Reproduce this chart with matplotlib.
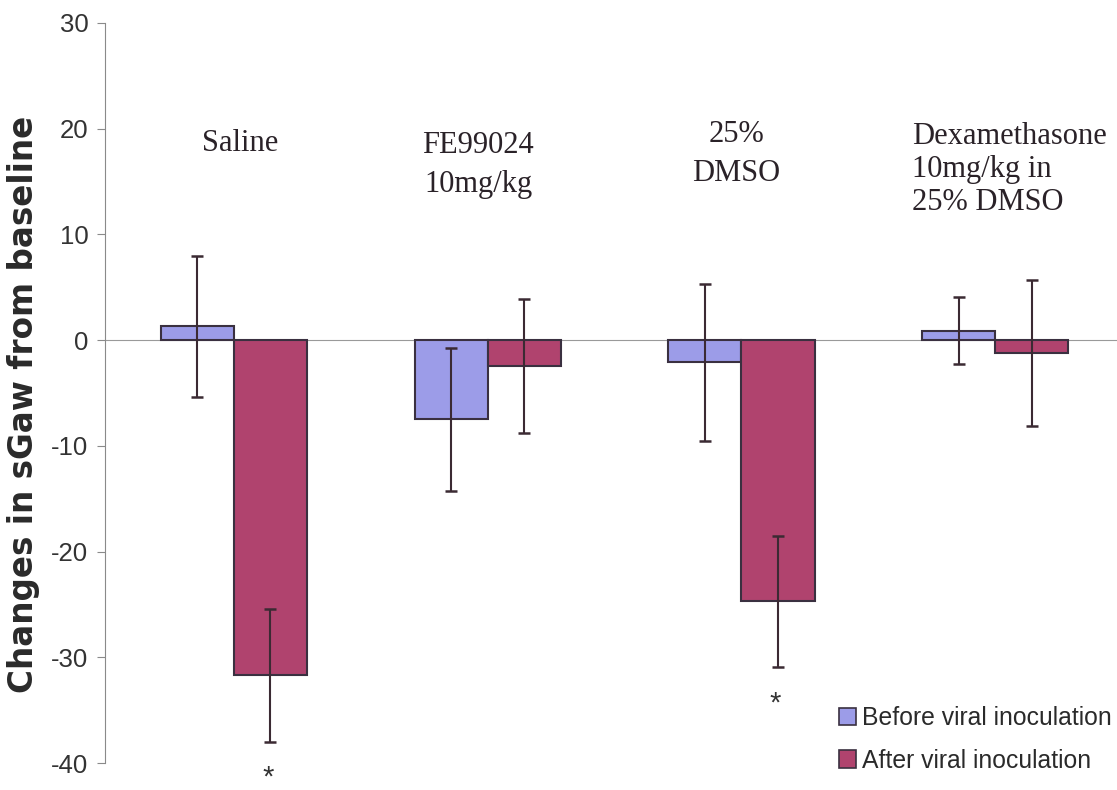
import matplotlib

matplotlib.use("Agg")
import matplotlib.pyplot as plt
import numpy as np
from matplotlib.patches import Patch

# data
groups = ["Saline", "FE99024\n10mg/kg", "25%\nDMSO", "Dexamethasone\n10mg/kg in\n25% DMSO"]
before = [1.3, -7.5, -2.1, 0.9]
before_err = [6.7, 6.8, 7.4, 3.2]
after = [-31.7, -2.45, -24.7, -1.2]
after_err = [6.3, 6.3, 6.2, 6.9]
series_names = ["Before viral inoculation", "After viral inoculation"]
yticks = [-40, -30, -20, -10, 0, 10, 20, 30]
signif = [0, 2]  # groups marked with *
star_y = [-41.4, -34.4]

blue = "#9c9ce8"
red = "#b0436e"
edge = "#3a3040"
err_col = "#3b2a33"

fig = plt.figure(figsize=(11.17, 7.9), dpi=100)
ax = fig.add_axes([0.094, 0.034, 0.906, 0.937])

x = np.arange(len(groups))
w = 0.288
ax.bar(x - w / 2, before, w, color=blue, edgecolor=edge, linewidth=1.5, zorder=2)
ax.bar(x + w / 2, after, w, color=red, edgecolor=edge, linewidth=1.5, zorder=2)
ax.errorbar(x - w / 2, before, yerr=before_err, fmt="none", ecolor=err_col,
            elinewidth=1.5, capsize=4, capthick=1.8, zorder=3)
ax.errorbar(x + w / 2, after, yerr=after_err, fmt="none", ecolor=err_col,
            elinewidth=1.5, capsize=4, capthick=1.8, zorder=3)

for i, sy in zip(signif, star_y):
    ax.text(x[i] + w / 2 - 0.01, sy, "*", ha="center", va="center",
            fontsize=21, color="#333333", family="Liberation Sans", clip_on=False)

# group labels above the bars
label_font = dict(family="Liberation Serif", fontsize=22, color="#2a2228")
ax.text(0.025, 18.6, groups[0], ha="center", va="center", **label_font)
ax.text(0.963, 16.6, groups[1], ha="center", va="center", linespacing=1.45, **label_font)
ax.text(1.98, 17.6, groups[2], ha="center", va="center", multialignment="center",
        linespacing=1.45, **label_font)
ax.text(2.672, 16.1, groups[3], ha="left", va="center", linespacing=1.18, **label_font)

ax.set_xlim(-0.508, 3.48)
ax.set_ylim(-40, 30)
ax.set_yticks(yticks)
ax.set_yticklabels([str(t) for t in yticks], family="Liberation Sans",
                   fontsize=18.5, color="#333333")
ax.set_xticks([])

ax.spines["top"].set_visible(False)
ax.spines["right"].set_visible(False)
ax.spines["bottom"].set_position(("data", 0))
ax.spines["bottom"].set_color("#9a9a9a")
ax.spines["bottom"].set_zorder(1)
ax.spines["left"].set_color("#8a8a8a")
ax.tick_params(axis="y", direction="out", length=6, color="#8a8a8a", pad=6)

ax.set_ylabel("Changes in sGaw from baseline", family="DejaVu Sans",
              fontsize=23.5, fontweight="bold", color="#2a2a2a")
ax.yaxis.set_label_coords(-0.064, 0.484)

handles = [Patch(facecolor=blue, edgecolor=edge, linewidth=1.2),
           Patch(facecolor=red, edgecolor=edge, linewidth=1.2)]
ax.legend(handles, series_names, loc="lower right", bbox_to_anchor=(1.017, -0.043),
          frameon=False, prop=dict(family="Liberation Sans", size=17.8),
          handlelength=0.7, handleheight=0.7, handletextpad=0.25,
          labelspacing=0.75, labelcolor="#2a2a2a")

fig.savefig("out.png", dpi=100, facecolor="white")
